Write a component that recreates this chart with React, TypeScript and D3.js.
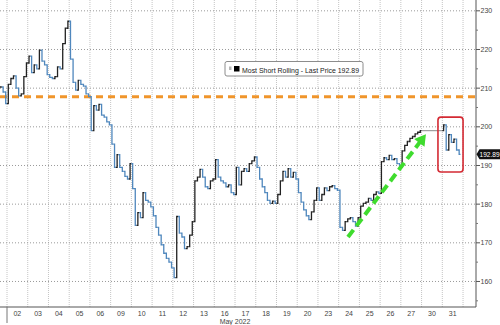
import React from 'react';
import * as d3 from 'd3';

// ---------- data ----------
const dayLabels = ['02', '03', '04', '05', '06', '09', '10', '11', '12', '13', '16', '17', '18', '19', '20', '23', '24', '25', '26', '27', '30', '31'];
const monthLabel = 'May 2022';
const barsPerDay = 8;
// last bars of the prior session (before May 02 open)
const preSessionCloses = [210.3, 209.0, 206.0];
// closes per trading day, 8 bars per day (empty = market holiday)
const sessionCloses: number[][] = [
  [211.0, 212.5, 213.2, 210.0, 208.0, 208.5, 213.0, 216.5], // 02
  [218.3, 214.0, 216.0, 215.0, 219.8, 217.0, 216.0, 213.5], // 03
  [212.8, 212.5, 213.0, 215.5, 215.0, 221.5, 225.5, 227.3], // 04
  [217.5, 211.5, 209.5, 212.0, 211.0, 210.5, 208.5, 207.8], // 05
  [199.0, 205.5, 204.3, 205.8, 203.0, 202.5, 201.3, 200.5], // 06
  [195.5, 189.5, 192.8, 189.5, 188.5, 187.2, 186.5, 190.5], // 09
  [184.0, 174.5, 177.8, 176.5, 183.0, 181.0, 180.5, 179.3], // 10
  [177.0, 174.0, 172.0, 169.5, 167.3, 166.0, 165.0, 163.5], // 11
  [161.0, 176.8, 172.5, 171.5, 168.5, 169.0, 172.0, 175.5], // 12
  [186.0, 187.0, 189.0, 187.0, 184.5, 184.0, 186.0, 186.5], // 13
  [191.5, 187.0, 186.0, 185.5, 184.5, 185.0, 183.0, 182.5], // 16
  [189.5, 185.0, 188.5, 189.2, 188.5, 190.5, 191.2, 192.2], // 17
  [189.5, 186.5, 184.5, 183.0, 181.0, 180.2, 180.8, 180.2], // 18
  [182.5, 186.0, 188.5, 187.0, 189.2, 187.0, 188.2, 186.5], // 19
  [183.0, 180.5, 178.5, 177.0, 176.0, 178.0, 181.0, 184.2], // 20
  [181.0, 182.5, 184.2, 183.5, 184.5, 184.8, 184.0, 183.6], // 23
  [174.0, 173.2, 175.5, 176.2, 176.5, 175.5, 174.3, 176.5], // 24
  [179.5, 180.2, 180.5, 181.5, 181.0, 182.5, 183.2, 182.8], // 25
  [191.0, 192.0, 191.5, 192.6, 191.5, 191.8, 190.5, 189.5], // 26
  [193.8, 195.2, 196.2, 197.0, 197.5, 198.2, 198.6, 199.0], // 27
  [], // 30 (holiday)
  [200.5, 194.0, 198.0, 196.0, 196.8, 194.0, 192.89], // 31
];
const yTicks = [160, 170, 180, 190, 200, 210, 220, 230];
const yMinorTicks = [155, 165, 175, 185, 195, 205, 215, 225];
const lastPrice = 192.89;
const legendText = 'Most Short Rolling - Last Price 192.89';
const resistanceLevel = 207.76;
const trendFrom = [16.45, 171.5];
const trendTo = [20.21, 198.1];
const highlightT = [20.79, 22.0];
const highlightV = [188.3, 202.5];

// ---------- layout ----------
const W = 500;
const H = 325;
const plotRight = 476;
const plotBottom = 307;
const FONT = 'Liberation Sans, Arial, sans-serif';

type Bar = { t: number; o: number; c: number; gap: boolean };

export default function App() {
  const x = d3.scaleLinear().domain([-0.338, 22.625]).range([0, plotRight]);
  const y = d3.scaleLinear().domain([153.4, 232.8]).range([plotBottom, 0]);

  const bars: Bar[] = [];
  let prevC: number | null = null;
  let prevT: number | null = null;
  preSessionCloses.forEach((c, j) => {
    const t = -(preSessionCloses.length - j - 0.5) / barsPerDay;
    bars.push({ t, o: prevC ?? c, c, gap: false });
    prevC = c;
    prevT = t;
  });
  sessionCloses.forEach((day, d) =>
    day.forEach((c, i) => {
      const t = d + (i + 0.5) / barsPerDay;
      const gap = prevT !== null && t - prevT > 1.5 / barsPerDay;
      bars.push({ t, o: prevC ?? c, c, gap });
      prevC = c;
      prevT = t;
    })
  );
  const hw = (x(1 / barsPerDay) - x(0)) / 2;

  const boundaries = d3.range(0, dayLabels.length + 1);

  // arrow geometry
  const ax0 = x(trendFrom[0]);
  const ay0 = y(trendFrom[1]);
  const ax1 = x(trendTo[0]);
  const ay1 = y(trendTo[1]);
  const len = Math.hypot(ax1 - ax0, ay1 - ay0);
  const ux = (ax1 - ax0) / len;
  const uy = (ay1 - ay0) / len;
  const headL = 11;
  const headW = 6.5;
  const bx = ax1 - ux * headL;
  const by = ay1 - uy * headL;
  const headPts = `${ax1},${ay1} ${bx - uy * headW},${by + ux * headW} ${bx + uy * headW},${by - ux * headW}`;

  const yLast = y(lastPrice);

  return (
    <svg
      width={W}
      height={H}
      style={{ position: 'absolute', left: 0, top: 0, background: '#fff' }}
      fontFamily={FONT}
    >
      <rect x={0} y={0} width={W} height={H} fill="#fff" />
      {/* vertical day grid */}
      {boundaries.map((k) => (
        <line
          key={'v' + k}
          x1={x(k)}
          x2={x(k)}
          y1={0}
          y2={plotBottom}
          stroke="#c4c4c4"
          strokeWidth={1}
          strokeDasharray="1,1"
        />
      ))}
      {/* horizontal grid */}
      {yTicks.map((v) => (
        <line
          key={'h' + v}
          x1={0}
          x2={plotRight}
          y1={y(v)}
          y2={y(v)}
          stroke="#9a9a9a"
          strokeWidth={1}
          strokeDasharray="1,2"
        />
      ))}

      {/* resistance line */}
      <line
        x1={0}
        x2={plotRight}
        y1={y(resistanceLevel)}
        y2={y(resistanceLevel)}
        stroke="#f0952b"
        strokeWidth={3}
        strokeDasharray="7,5"
      />

      {/* price bars */}
      {bars.map((b, i) => {
        const xi = x(b.t);
        const up = b.c >= b.o;
        return (
          <g key={'b' + i}>
            {b.gap && (
              <line
                x1={x(bars[i - 1].t) + hw}
                x2={xi - hw}
                y1={y(b.o)}
                y2={y(b.o)}
                stroke="#8a8a8a"
                strokeWidth={1}
              />
            )}
            <path
              d={`M${xi - hw},${y(b.o)}H${xi}V${y(b.c)}H${xi + hw}`}
              fill="none"
              stroke={up ? '#222222' : '#4f87bd'}
              strokeWidth={1.3}
            />
          </g>
        );
      })}

      {/* green trend arrow */}
      <line
        x1={ax0}
        y1={ay0}
        x2={bx + ux * 1}
        y2={by + uy * 1}
        stroke="#3fdc2e"
        strokeWidth={4}
        strokeDasharray="9,5"
      />
      <polygon points={headPts} fill="#3fdc2e" />

      {/* red highlight box */}
      <rect
        x={x(highlightT[0])}
        y={y(highlightV[1])}
        width={x(highlightT[1]) - x(highlightT[0])}
        height={y(highlightV[0]) - y(highlightV[1])}
        rx={3}
        fill="none"
        stroke="#d42a33"
        strokeWidth={1.6}
      />

      {/* legend */}
      <rect x={225} y={61.5} width={138} height={14.5} rx={2} fill="#fff" stroke="#8c8c8c" strokeWidth={1} />
      <rect x={229} y={66.5} width={2.5} height={3.5} fill="#b5b5b5" />
      <rect x={234} y={66} width={5.5} height={5.5} fill="#000" />
      <text x={242} y={72.5} fontSize={7} fill="#222" textLength={117} lengthAdjust="spacingAndGlyphs">
        {legendText}
      </text>

      {/* right axis */}
      <line x1={plotRight} x2={plotRight} y1={0} y2={plotBottom} stroke="#555" strokeWidth={1} />
      {yTicks.map((v) => (
        <g key={'t' + v}>
          <line x1={plotRight} x2={plotRight + 4} y1={y(v)} y2={y(v)} stroke="#555" strokeWidth={1} />
          <text x={plotRight + 4.5} y={y(v)} dy="0.35em" fontSize={7} fill="#444">
            {v}
          </text>
        </g>
      ))}
      {yMinorTicks.map((v) => (
        <line key={'m' + v} x1={plotRight} x2={plotRight + 2} y1={y(v)} y2={y(v)} stroke="#777" strokeWidth={1} />
      ))}
      {/* last price tag */}
      <path
        d={`M${plotRight + 0.5},${yLast}L${plotRight + 3.5},${yLast - 5}H${W}V${yLast + 5}H${plotRight + 3.5}Z`}
        fill="#111"
      />
      <text x={plotRight + 3.5} y={yLast} dy="0.35em" fontSize={6.6} fill="#fff">
        {lastPrice.toFixed(2)}
      </text>

      {/* bottom axis */}
      <line x1={0} x2={plotRight} y1={plotBottom} y2={plotBottom} stroke="#555" strokeWidth={1} />
      <line x1={x(0)} x2={x(0)} y1={plotBottom} y2={H - 2} stroke="#777" strokeWidth={1} />
      {dayLabels.map((lab, d) => (
        <text key={'d' + lab} x={x(d + 0.5)} y={315.5} fontSize={7} fill="#444" textAnchor="middle">
          {lab}
        </text>
      ))}
      <text x={x(dayLabels.length / 2)} y={323.5} fontSize={7} fill="#444" textAnchor="middle">
        {monthLabel}
      </text>
    </svg>
  );
}
